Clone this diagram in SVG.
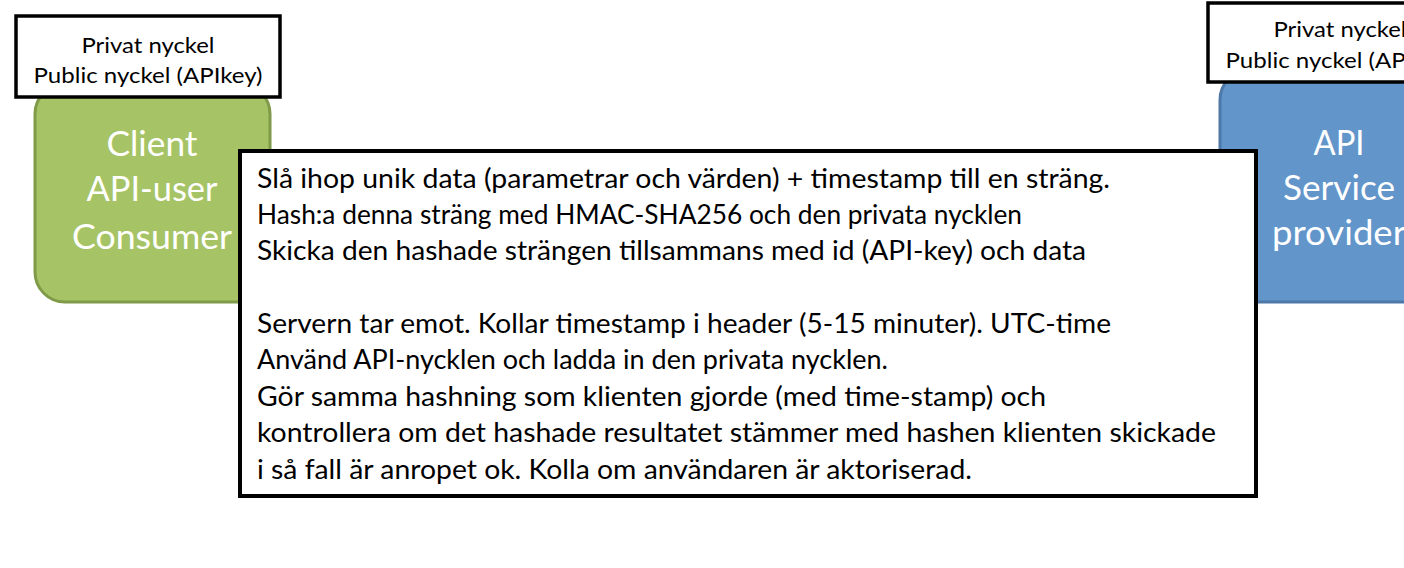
<svg xmlns="http://www.w3.org/2000/svg" width="1404" height="568" viewBox="0 0 1404 568">
<style>
.key{fill:#fff;stroke:#000;stroke-width:3.5}
.keyt{font-family:Lato,"Open Sans",sans-serif;font-size:21px;fill:#000;text-anchor:middle}
.big{font-family:Lato,"Open Sans",sans-serif;font-size:34px;fill:#fff;text-anchor:middle}
.body{font-family:Lato,"Open Sans",sans-serif;font-size:26px;fill:#000}
</style>
<rect width="1404" height="568" fill="#fff"/>
<g id="client">
<rect x="35" y="84" width="235" height="218" rx="30" fill="#a6c466" stroke="#7f9b49" stroke-width="3"/>
<text class="big" x="152" y="156" textLength="91" lengthAdjust="spacingAndGlyphs">Client</text>
<text class="big" x="152" y="201" textLength="131" lengthAdjust="spacingAndGlyphs">API-user</text>
<text class="big" x="152" y="249" textLength="160" lengthAdjust="spacingAndGlyphs">Consumer</text>
</g>
<g id="client-keys">
<rect class="key" x="16" y="16" width="264" height="81"/>
<text class="keyt" x="148" y="53" textLength="133" lengthAdjust="spacingAndGlyphs">Privat nyckel</text>
<text class="keyt" x="148" y="83" textLength="229" lengthAdjust="spacingAndGlyphs">Public nyckel (APIkey)</text>
</g>
<g id="provider">
<rect x="1220" y="70" width="240" height="232" rx="30" fill="#6295ca" stroke="#4d78a8" stroke-width="3"/>
<text class="big" x="1339" y="155" textLength="51" lengthAdjust="spacingAndGlyphs">API</text>
<text class="big" x="1339" y="200" textLength="112" lengthAdjust="spacingAndGlyphs">Service</text>
<text class="big" x="1339" y="245" textLength="134" lengthAdjust="spacingAndGlyphs">provider</text>
</g>
<g id="provider-keys">
<rect class="key" x="1208" y="3" width="264" height="79"/>
<text class="keyt" x="1340" y="37" textLength="133" lengthAdjust="spacingAndGlyphs">Privat nyckel</text>
<text class="keyt" x="1340" y="68" textLength="229" lengthAdjust="spacingAndGlyphs">Public nyckel (APIkey)</text>
</g>
<g id="steps">
<rect x="240" y="151" width="1016" height="345" fill="#fff" stroke="#000" stroke-width="4"/>
<text class="body" x="257" y="188" textLength="853" lengthAdjust="spacingAndGlyphs">Slå ihop unik data (parametrar och värden) + timestamp till en sträng.</text>
<text class="body" x="257" y="224" textLength="765" lengthAdjust="spacingAndGlyphs">Hash:a denna sträng med HMAC-SHA256 och den privata nycklen</text>
<text class="body" x="257" y="260" textLength="829" lengthAdjust="spacingAndGlyphs">Skicka den hashade strängen tillsammans med id (API-key) och data</text>
<text class="body" x="257" y="333" textLength="854" lengthAdjust="spacingAndGlyphs">Servern tar emot. Kollar timestamp i header (5-15 minuter). UTC-time</text>
<text class="body" x="257" y="369" textLength="631" lengthAdjust="spacingAndGlyphs">Använd API-nycklen och ladda in den privata nycklen.</text>
<text class="body" x="257" y="406" textLength="789" lengthAdjust="spacingAndGlyphs">Gör samma hashning som klienten gjorde (med time-stamp) och</text>
<text class="body" x="257" y="442" textLength="959" lengthAdjust="spacingAndGlyphs">kontrollera om det hashade resultatet stämmer med hashen klienten skickade</text>
<text class="body" x="257" y="479" textLength="715" lengthAdjust="spacingAndGlyphs">i så fall är anropet ok. Kolla om användaren är aktoriserad.</text>
</g>
</svg>
